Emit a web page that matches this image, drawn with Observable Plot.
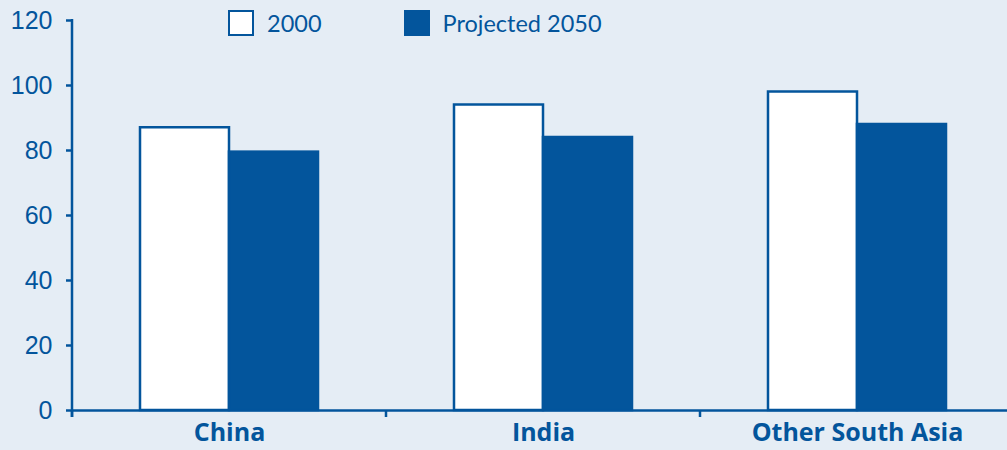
<!DOCTYPE html>
<html>
<head>
<meta charset="utf-8">
<script src="https://cdn.jsdelivr.net/npm/d3@7"></script>
<script src="https://cdn.jsdelivr.net/npm/@observablehq/plot@0.6"></script>
<style>
  html, body { margin: 0; padding: 0; background: #e5edf5; }
  #wrap { position: relative; width: 1007px; height: 450px; overflow: hidden; }
  .legend { position: absolute; top: 10px; left: 228px; display: flex; align-items: center; font-family: Lato, sans-serif; font-size: 23.5px; color: #03559c; line-height: 26px; }
  .sw { width: 22px; height: 22px; border: 2.5px solid #03559c; margin-right: 13px; }
  .item { display: flex; align-items: center; }
</style>
</head>
<body>
<div id="wrap"></div>
<script>
const categories = ["China", "India", "Other South Asia"];
const series = ["2000", "Projected 2050"];
const values2000 = [87, 94, 98];
const values2050 = [79.5, 84, 88];
const yTicks = [0, 20, 40, 60, 80, 100, 120];

const BLUE = "#03559c";
const BG = "#e5edf5";

const data = categories.flatMap((c, i) => [
  {category: c, series: series[0], value: values2000[i]},
  {category: c, series: series[1], value: values2050[i]}
]);

const plot = Plot.plot({
  width: 1007,
  height: 450,
  marginLeft: 72,
  marginRight: -7,
  marginTop: 20,
  marginBottom: 40,
  style: {background: BG, color: BLUE, fontFamily: "Liberation Sans, Arial, sans-serif", overflow: "visible"},
  fx: {domain: categories, padding: 0, label: null, axis: null},
  x: {domain: series, paddingInner: 0, paddingOuter: 0.745, axis: null},
  y: {domain: [0, 120], label: null, axis: null},
  color: {domain: series, range: ["white", BLUE]},
  marks: [
    Plot.barY(data, {fx: "category", x: "series", y: "value", fill: "series", stroke: BLUE, strokeWidth: 2.5, inset: 0}),
    Plot.ruleY([0], {stroke: BLUE, strokeWidth: 2.5}),
    Plot.axisY({ticks: yTicks, tickSize: 6, tickPadding: 14, stroke: BLUE, strokeWidth: 2.5, fill: BLUE, fontSize: 25, label: null, facetAnchor: "left"}),
    Plot.axisFx({anchor: "bottom", tickSize: 0, tickPadding: 13, fontSize: 25, fontWeight: "bold", fontFamily: "Open Sans, sans-serif", fill: BLUE, label: null})
  ]
});

const fx = plot.scale("fx");
const y = plot.scale("y");
const svg = d3.select(plot);
const g = svg.append("g").attr("stroke", BLUE).attr("stroke-width", 2.5);
// y axis line
g.append("line")
  .attr("x1", fx.apply(categories[0])).attr("x2", fx.apply(categories[0]))
  .attr("y1", y.apply(120) - 1).attr("y2", y.apply(0) + 7);
// category boundary ticks
categories.forEach(c => {
  g.append("line")
    .attr("x1", fx.apply(c)).attr("x2", fx.apply(c))
    .attr("y1", y.apply(0)).attr("y2", y.apply(0) + 7);
});

const wrap = document.getElementById("wrap");
wrap.appendChild(plot);

const legend = document.createElement("div");
legend.className = "legend";
series.forEach((s, i) => {
  const item = document.createElement("div");
  item.className = "item";
  item.style.marginRight = i === 0 ? "82px" : "0";
  const sw = document.createElement("div");
  sw.className = "sw";
  sw.style.background = i === 0 ? "white" : BLUE;
  const t = document.createElement("span");
  t.textContent = s;
  item.appendChild(sw);
  item.appendChild(t);
  legend.appendChild(item);
});
wrap.appendChild(legend);
</script>
</body>
</html>
